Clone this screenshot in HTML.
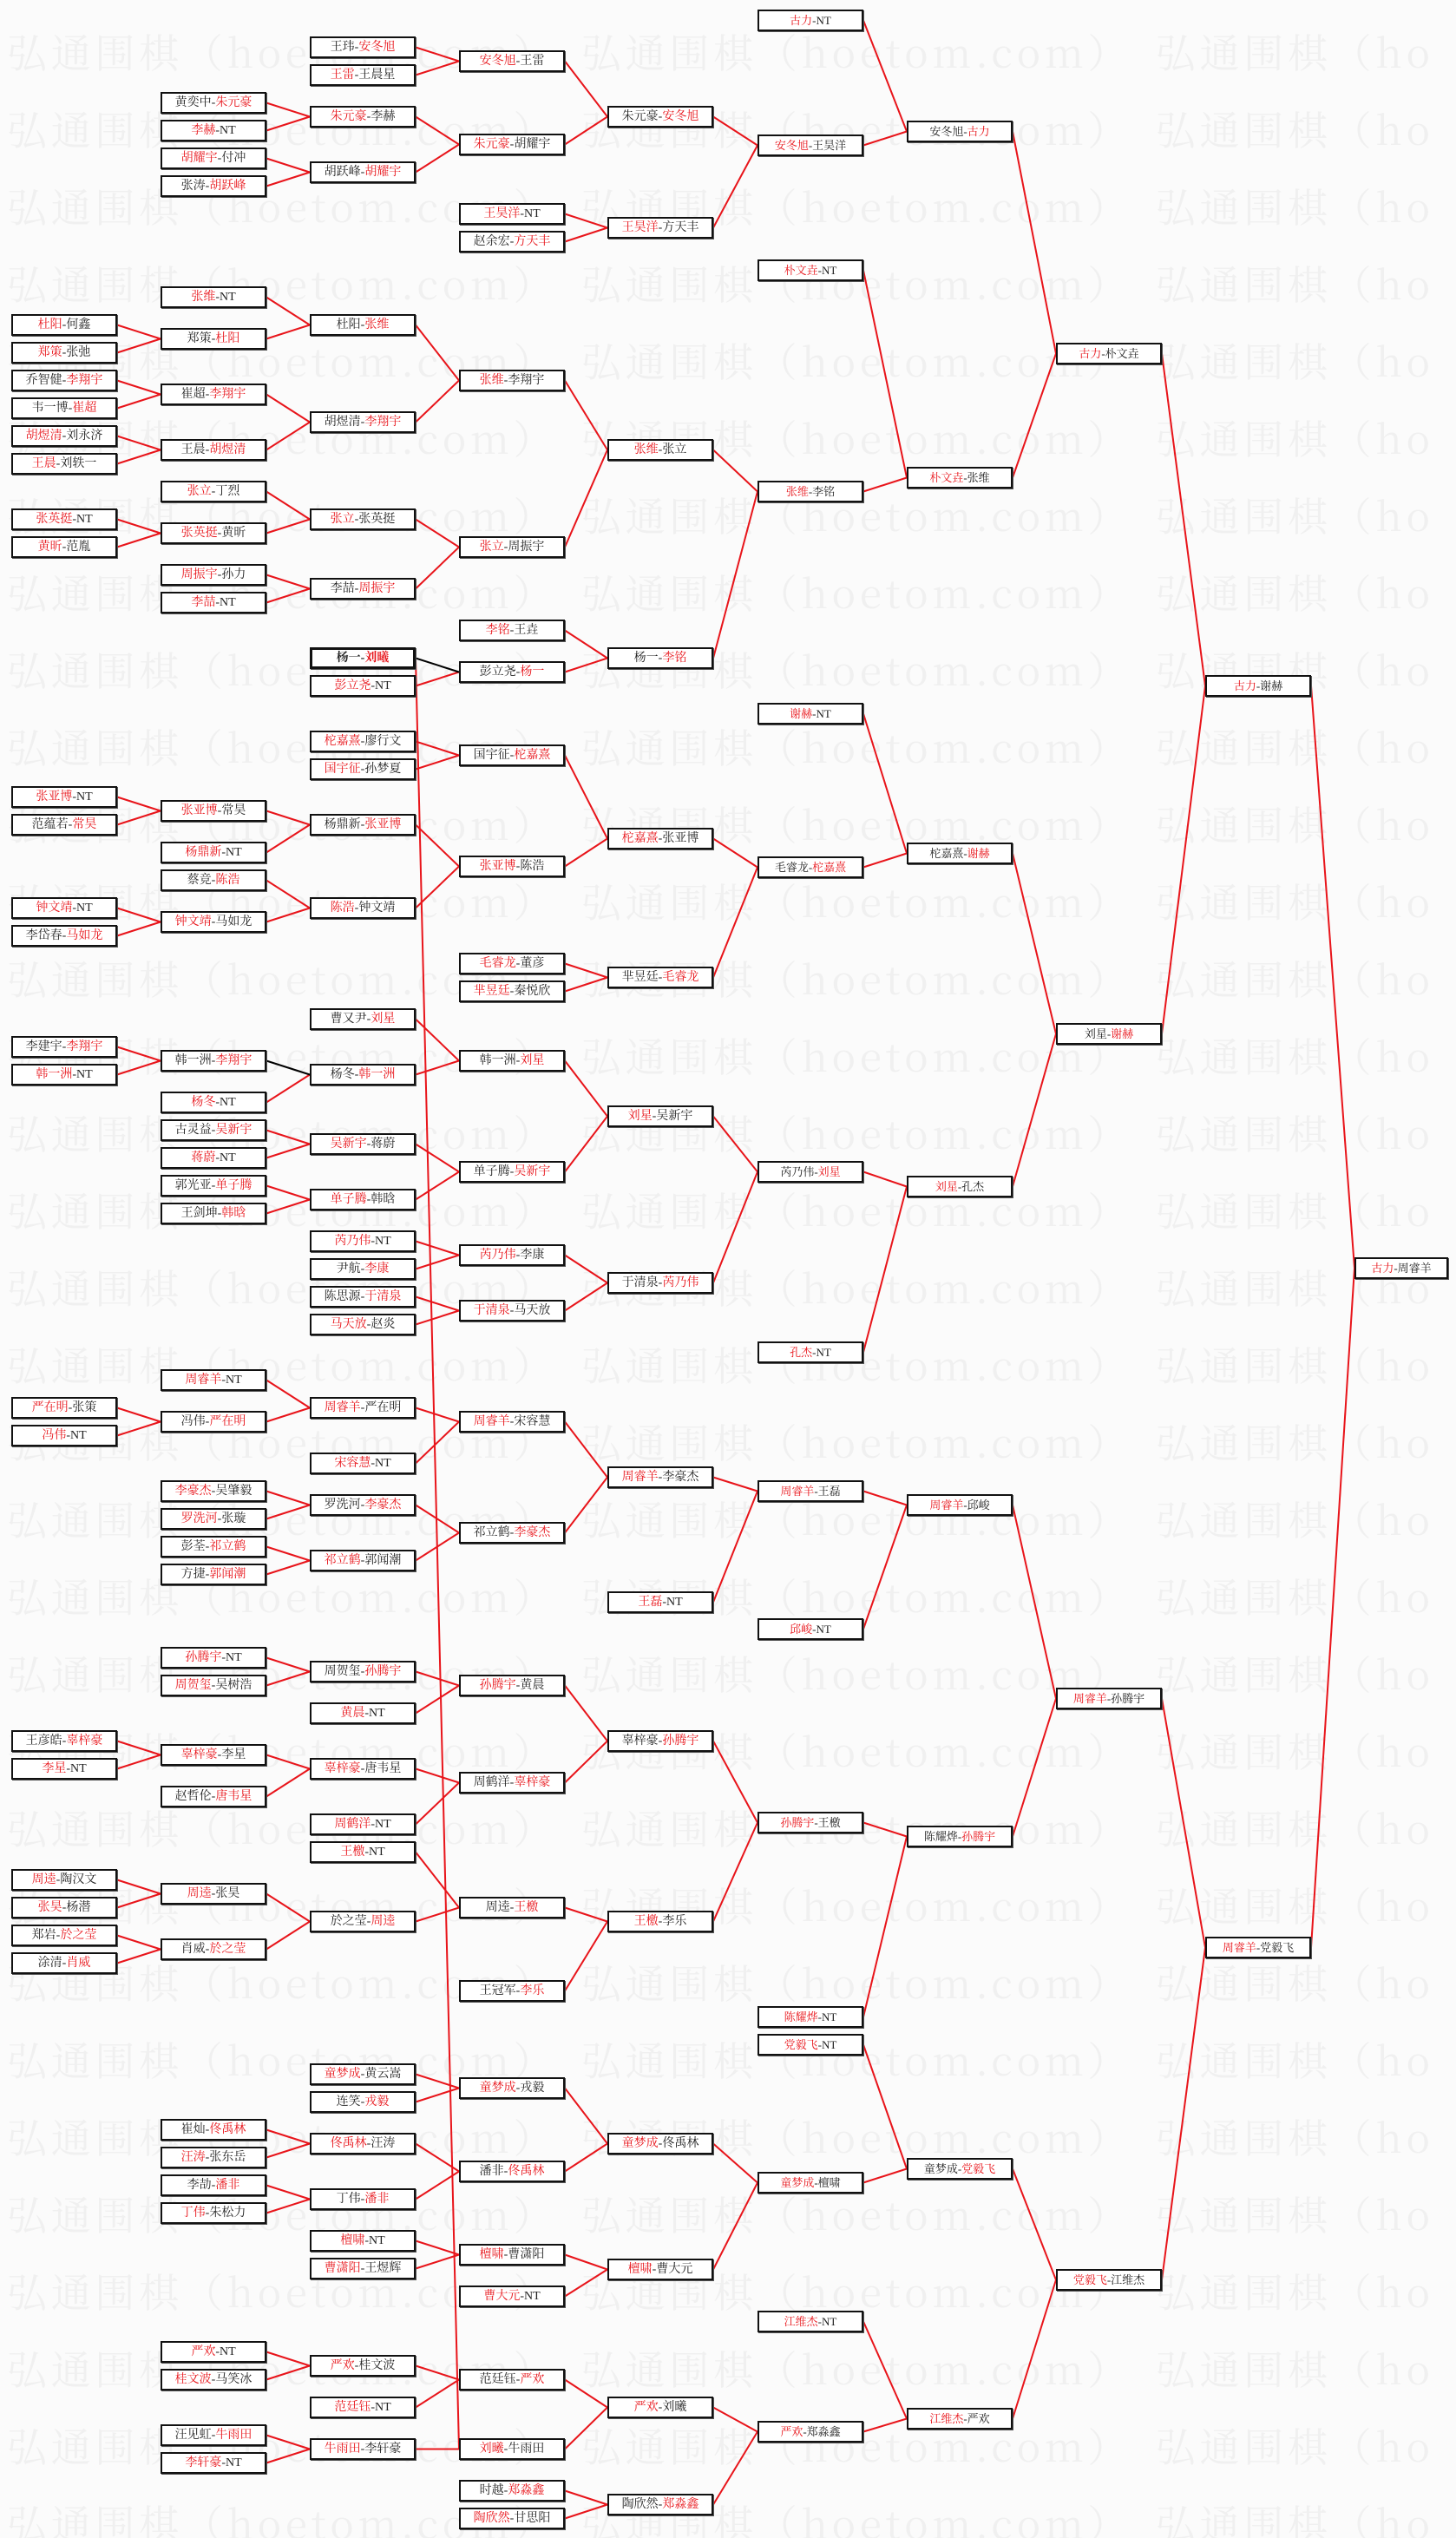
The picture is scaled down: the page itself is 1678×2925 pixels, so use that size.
<!DOCTYPE html>
<html><head><meta charset="utf-8">
<style>
html,body{margin:0;padding:0}
body{width:1678px;height:2925px;position:relative;background:#fbfbfb;overflow:hidden;font-family:"Liberation Serif","Noto Serif CJK SC",serif;color:#222}
#wm{position:absolute;left:0;top:0}
#ln{position:absolute;left:0;top:0}
.b{position:absolute;width:118px;height:21px;border:2px solid #111;background:#fff;font-size:14px;line-height:21px;text-align:center;white-space:nowrap;overflow:hidden;box-shadow:1px 1px 0 #555}
.s{font-size:13px}
.b i{font-style:normal;color:#e8141a}
.A{left:13px}.B{left:185px}.C{left:357px}.D{left:529px}.E{left:700px}
.F{left:873px}.G{left:1045px}.H{left:1217px}.I{left:1389px}.J{left:1561px;width:104px}
.k{border-width:3px;height:19px;line-height:19px;width:116px;font-weight:bold}
</style></head><body>
<svg id="wm" width="1678" height="2925" font-family="Noto Serif CJK SC,serif" font-size="46" fill="#f0f0f0">
<text x="8" y="78" textLength="1640" lengthAdjust="spacing">弘通围棋（hoetom.com）　弘通围棋（hoetom.com）　弘通围棋（ho</text>
<text x="8" y="167" textLength="1640" lengthAdjust="spacing">弘通围棋（hoetom.com）　弘通围棋（hoetom.com）　弘通围棋（ho</text>
<text x="8" y="256" textLength="1640" lengthAdjust="spacing">弘通围棋（hoetom.com）　弘通围棋（hoetom.com）　弘通围棋（ho</text>
<text x="8" y="345" textLength="1640" lengthAdjust="spacing">弘通围棋（hoetom.com）　弘通围棋（hoetom.com）　弘通围棋（ho</text>
<text x="8" y="434" textLength="1640" lengthAdjust="spacing">弘通围棋（hoetom.com）　弘通围棋（hoetom.com）　弘通围棋（ho</text>
<text x="8" y="523" textLength="1640" lengthAdjust="spacing">弘通围棋（hoetom.com）　弘通围棋（hoetom.com）　弘通围棋（ho</text>
<text x="8" y="612" textLength="1640" lengthAdjust="spacing">弘通围棋（hoetom.com）　弘通围棋（hoetom.com）　弘通围棋（ho</text>
<text x="8" y="701" textLength="1640" lengthAdjust="spacing">弘通围棋（hoetom.com）　弘通围棋（hoetom.com）　弘通围棋（ho</text>
<text x="8" y="790" textLength="1640" lengthAdjust="spacing">弘通围棋（hoetom.com）　弘通围棋（hoetom.com）　弘通围棋（ho</text>
<text x="8" y="879" textLength="1640" lengthAdjust="spacing">弘通围棋（hoetom.com）　弘通围棋（hoetom.com）　弘通围棋（ho</text>
<text x="8" y="968" textLength="1640" lengthAdjust="spacing">弘通围棋（hoetom.com）　弘通围棋（hoetom.com）　弘通围棋（ho</text>
<text x="8" y="1057" textLength="1640" lengthAdjust="spacing">弘通围棋（hoetom.com）　弘通围棋（hoetom.com）　弘通围棋（ho</text>
<text x="8" y="1146" textLength="1640" lengthAdjust="spacing">弘通围棋（hoetom.com）　弘通围棋（hoetom.com）　弘通围棋（ho</text>
<text x="8" y="1235" textLength="1640" lengthAdjust="spacing">弘通围棋（hoetom.com）　弘通围棋（hoetom.com）　弘通围棋（ho</text>
<text x="8" y="1324" textLength="1640" lengthAdjust="spacing">弘通围棋（hoetom.com）　弘通围棋（hoetom.com）　弘通围棋（ho</text>
<text x="8" y="1413" textLength="1640" lengthAdjust="spacing">弘通围棋（hoetom.com）　弘通围棋（hoetom.com）　弘通围棋（ho</text>
<text x="8" y="1502" textLength="1640" lengthAdjust="spacing">弘通围棋（hoetom.com）　弘通围棋（hoetom.com）　弘通围棋（ho</text>
<text x="8" y="1591" textLength="1640" lengthAdjust="spacing">弘通围棋（hoetom.com）　弘通围棋（hoetom.com）　弘通围棋（ho</text>
<text x="8" y="1680" textLength="1640" lengthAdjust="spacing">弘通围棋（hoetom.com）　弘通围棋（hoetom.com）　弘通围棋（ho</text>
<text x="8" y="1769" textLength="1640" lengthAdjust="spacing">弘通围棋（hoetom.com）　弘通围棋（hoetom.com）　弘通围棋（ho</text>
<text x="8" y="1858" textLength="1640" lengthAdjust="spacing">弘通围棋（hoetom.com）　弘通围棋（hoetom.com）　弘通围棋（ho</text>
<text x="8" y="1947" textLength="1640" lengthAdjust="spacing">弘通围棋（hoetom.com）　弘通围棋（hoetom.com）　弘通围棋（ho</text>
<text x="8" y="2036" textLength="1640" lengthAdjust="spacing">弘通围棋（hoetom.com）　弘通围棋（hoetom.com）　弘通围棋（ho</text>
<text x="8" y="2125" textLength="1640" lengthAdjust="spacing">弘通围棋（hoetom.com）　弘通围棋（hoetom.com）　弘通围棋（ho</text>
<text x="8" y="2214" textLength="1640" lengthAdjust="spacing">弘通围棋（hoetom.com）　弘通围棋（hoetom.com）　弘通围棋（ho</text>
<text x="8" y="2303" textLength="1640" lengthAdjust="spacing">弘通围棋（hoetom.com）　弘通围棋（hoetom.com）　弘通围棋（ho</text>
<text x="8" y="2392" textLength="1640" lengthAdjust="spacing">弘通围棋（hoetom.com）　弘通围棋（hoetom.com）　弘通围棋（ho</text>
<text x="8" y="2481" textLength="1640" lengthAdjust="spacing">弘通围棋（hoetom.com）　弘通围棋（hoetom.com）　弘通围棋（ho</text>
<text x="8" y="2570" textLength="1640" lengthAdjust="spacing">弘通围棋（hoetom.com）　弘通围棋（hoetom.com）　弘通围棋（ho</text>
<text x="8" y="2659" textLength="1640" lengthAdjust="spacing">弘通围棋（hoetom.com）　弘通围棋（hoetom.com）　弘通围棋（ho</text>
<text x="8" y="2748" textLength="1640" lengthAdjust="spacing">弘通围棋（hoetom.com）　弘通围棋（hoetom.com）　弘通围棋（ho</text>
<text x="8" y="2837" textLength="1640" lengthAdjust="spacing">弘通围棋（hoetom.com）　弘通围棋（hoetom.com）　弘通围棋（ho</text>
<text x="8" y="2926" textLength="1640" lengthAdjust="spacing">弘通围棋（hoetom.com）　弘通围棋（hoetom.com）　弘通围棋（ho</text>
</svg>
<svg id="ln" width="1678" height="2925"></svg>

<div id="C1" class="b C" style="top:42px">王玮-<i>安冬旭</i></div>
<div id="C2" class="b C" style="top:74px"><i>王雷</i>-王晨星</div>
<div id="D1" class="b D" style="top:58px"><i>安冬旭</i>-王雷</div>
<div id="B1" class="b B" style="top:106px">黄奕中-<i>朱元豪</i></div>
<div id="B2" class="b B" style="top:138px"><i>李赫</i>-NT</div>
<div id="B3" class="b B" style="top:170px"><i>胡耀宇</i>-付冲</div>
<div id="B4" class="b B" style="top:202px">张涛-<i>胡跃峰</i></div>
<div id="C3" class="b C" style="top:122px"><i>朱元豪</i>-李赫</div>
<div id="C4" class="b C" style="top:186px">胡跃峰-<i>胡耀宇</i></div>
<div id="D2" class="b D" style="top:154px"><i>朱元豪</i>-胡耀宇</div>
<div id="E1" class="b E" style="top:122px">朱元豪-<i>安冬旭</i></div>
<div id="D3" class="b D" style="top:234px"><i>王昊洋</i>-NT</div>
<div id="D4" class="b D" style="top:266px">赵余宏-<i>方天丰</i></div>
<div id="E2" class="b E" style="top:250px"><i>王昊洋</i>-方天丰</div>
<div id="F1" class="b s F" style="top:11px"><i>古力</i>-NT</div>
<div id="F2" class="b s F" style="top:155px"><i>安冬旭</i>-王昊洋</div>
<div id="G1" class="b s G" style="top:139px">安冬旭-<i>古力</i></div>
<div id="B5" class="b B" style="top:330px"><i>张维</i>-NT</div>
<div id="A1" class="b A" style="top:362px"><i>杜阳</i>-何鑫</div>
<div id="A2" class="b A" style="top:394px"><i>郑策</i>-张弛</div>
<div id="B6" class="b B" style="top:378px">郑策-<i>杜阳</i></div>
<div id="C5" class="b C" style="top:362px">杜阳-<i>张维</i></div>
<div id="A3" class="b A" style="top:426px">乔智健-<i>李翔宇</i></div>
<div id="A4" class="b A" style="top:458px">韦一博-<i>崔超</i></div>
<div id="A5" class="b A" style="top:490px"><i>胡煜清</i>-刘永济</div>
<div id="A6" class="b A" style="top:522px"><i>王晨</i>-刘轶一</div>
<div id="B7" class="b B" style="top:442px">崔超-<i>李翔宇</i></div>
<div id="B8" class="b B" style="top:506px">王晨-<i>胡煜清</i></div>
<div id="C6" class="b C" style="top:474px">胡煜清-<i>李翔宇</i></div>
<div id="D5" class="b D" style="top:426px"><i>张维</i>-李翔宇</div>
<div id="E3" class="b E" style="top:506px"><i>张维</i>-张立</div>
<div id="B9" class="b B" style="top:554px"><i>张立</i>-丁烈</div>
<div id="A7" class="b A" style="top:586px"><i>张英挺</i>-NT</div>
<div id="A8" class="b A" style="top:618px"><i>黄昕</i>-范胤</div>
<div id="B10" class="b B" style="top:602px"><i>张英挺</i>-黄昕</div>
<div id="B11" class="b B" style="top:650px"><i>周振宇</i>-孙力</div>
<div id="B12" class="b B" style="top:682px"><i>李喆</i>-NT</div>
<div id="C7" class="b C" style="top:586px"><i>张立</i>-张英挺</div>
<div id="C8" class="b C" style="top:666px">李喆-<i>周振宇</i></div>
<div id="D6" class="b D" style="top:618px"><i>张立</i>-周振宇</div>
<div id="D7" class="b D" style="top:714px"><i>李铭</i>-王垚</div>
<div id="E4" class="b E" style="top:746px">杨一-<i>李铭</i></div>
<div id="C9" class="b C k" style="top:746px">杨一-<i>刘曦</i></div>
<div id="C10" class="b C" style="top:778px"><i>彭立尧</i>-NT</div>
<div id="D8" class="b D" style="top:762px">彭立尧-<i>杨一</i></div>
<div id="F3" class="b s F" style="top:299px"><i>朴文垚</i>-NT</div>
<div id="F4" class="b s F" style="top:554px"><i>张维</i>-李铭</div>
<div id="G2" class="b s G" style="top:538px"><i>朴文垚</i>-张维</div>
<div id="H1" class="b s H" style="top:395px"><i>古力</i>-朴文垚</div>
<div id="C11" class="b C" style="top:842px"><i>柁嘉熹</i>-廖行文</div>
<div id="C12" class="b C" style="top:874px"><i>国宇征</i>-孙梦夏</div>
<div id="D9" class="b D" style="top:858px">国宇征-<i>柁嘉熹</i></div>
<div id="A9" class="b A" style="top:906px"><i>张亚博</i>-NT</div>
<div id="A10" class="b A" style="top:938px">范蕴若-<i>常昊</i></div>
<div id="B13" class="b B" style="top:922px"><i>张亚博</i>-常昊</div>
<div id="B14" class="b B" style="top:970px"><i>杨鼎新</i>-NT</div>
<div id="C13" class="b C" style="top:938px">杨鼎新-<i>张亚博</i></div>
<div id="E5" class="b E" style="top:954px"><i>柁嘉熹</i>-张亚博</div>
<div id="D10" class="b D" style="top:986px"><i>张亚博</i>-陈浩</div>
<div id="B15" class="b B" style="top:1002px">蔡竞-<i>陈浩</i></div>
<div id="A11" class="b A" style="top:1034px"><i>钟文靖</i>-NT</div>
<div id="A12" class="b A" style="top:1066px">李岱春-<i>马如龙</i></div>
<div id="B16" class="b B" style="top:1050px"><i>钟文靖</i>-马如龙</div>
<div id="C14" class="b C" style="top:1034px"><i>陈浩</i>-钟文靖</div>
<div id="D11" class="b D" style="top:1098px"><i>毛睿龙</i>-董彦</div>
<div id="D12" class="b D" style="top:1130px"><i>芈昱廷</i>-秦悦欣</div>
<div id="E6" class="b E" style="top:1114px">芈昱廷-<i>毛睿龙</i></div>
<div id="F5" class="b s F" style="top:810px"><i>谢赫</i>-NT</div>
<div id="F6" class="b s F" style="top:987px">毛睿龙-<i>柁嘉熹</i></div>
<div id="G3" class="b s G" style="top:971px">柁嘉熹-<i>谢赫</i></div>
<div id="C15" class="b C" style="top:1162px">曹又尹-<i>刘星</i></div>
<div id="A13" class="b A" style="top:1194px">李建宇-<i>李翔宇</i></div>
<div id="A14" class="b A" style="top:1226px"><i>韩一洲</i>-NT</div>
<div id="B17" class="b B" style="top:1210px">韩一洲-<i>李翔宇</i></div>
<div id="B18" class="b B" style="top:1258px"><i>杨冬</i>-NT</div>
<div id="B19" class="b B" style="top:1290px">古灵益-<i>吴新宇</i></div>
<div id="B20" class="b B" style="top:1322px"><i>蒋蔚</i>-NT</div>
<div id="B21" class="b B" style="top:1354px">郭光亚-<i>单子腾</i></div>
<div id="B22" class="b B" style="top:1386px">王剑坤-<i>韩晗</i></div>
<div id="C16" class="b C" style="top:1226px">杨冬-<i>韩一洲</i></div>
<div id="C17" class="b C" style="top:1306px"><i>吴新宇</i>-蒋蔚</div>
<div id="C18" class="b C" style="top:1370px"><i>单子腾</i>-韩晗</div>
<div id="D13" class="b D" style="top:1210px">韩一洲-<i>刘星</i></div>
<div id="D14" class="b D" style="top:1338px">单子腾-<i>吴新宇</i></div>
<div id="E7" class="b E" style="top:1274px"><i>刘星</i>-吴新宇</div>
<div id="C19" class="b C" style="top:1418px"><i>芮乃伟</i>-NT</div>
<div id="C20" class="b C" style="top:1450px">尹航-<i>李康</i></div>
<div id="C21" class="b C" style="top:1482px">陈思源-<i>于清泉</i></div>
<div id="C22" class="b C" style="top:1514px"><i>马天放</i>-赵炎</div>
<div id="D15" class="b D" style="top:1434px"><i>芮乃伟</i>-李康</div>
<div id="D16" class="b D" style="top:1498px"><i>于清泉</i>-马天放</div>
<div id="E8" class="b E" style="top:1466px">于清泉-<i>芮乃伟</i></div>
<div id="F7" class="b s F" style="top:1338px">芮乃伟-<i>刘星</i></div>
<div id="F8" class="b s F" style="top:1546px"><i>孔杰</i>-NT</div>
<div id="G4" class="b s G" style="top:1355px"><i>刘星</i>-孔杰</div>
<div id="H2" class="b s H" style="top:1179px">刘星-<i>谢赫</i></div>
<div id="I1" class="b s I" style="top:778px"><i>古力</i>-谢赫</div>
<div id="J1" class="b s J" style="top:1449px"><i>古力</i>-周睿羊</div>
<div id="B23" class="b B" style="top:1578px"><i>周睿羊</i>-NT</div>
<div id="A15" class="b A" style="top:1610px"><i>严在明</i>-张策</div>
<div id="A16" class="b A" style="top:1642px"><i>冯伟</i>-NT</div>
<div id="B24" class="b B" style="top:1626px">冯伟-<i>严在明</i></div>
<div id="C23" class="b C" style="top:1610px"><i>周睿羊</i>-严在明</div>
<div id="C24" class="b C" style="top:1674px"><i>宋容慧</i>-NT</div>
<div id="D17" class="b D" style="top:1626px"><i>周睿羊</i>-宋容慧</div>
<div id="E9" class="b E" style="top:1690px"><i>周睿羊</i>-李豪杰</div>
<div id="B25" class="b B" style="top:1706px"><i>李豪杰</i>-吴肇毅</div>
<div id="B26" class="b B" style="top:1738px"><i>罗洗河</i>-张璇</div>
<div id="B27" class="b B" style="top:1770px">彭荃-<i>祁立鹤</i></div>
<div id="B28" class="b B" style="top:1802px">方捷-<i>郭闻潮</i></div>
<div id="C25" class="b C" style="top:1722px">罗洗河-<i>李豪杰</i></div>
<div id="C26" class="b C" style="top:1786px"><i>祁立鹤</i>-郭闻潮</div>
<div id="D18" class="b D" style="top:1754px">祁立鹤-<i>李豪杰</i></div>
<div id="E10" class="b E" style="top:1834px"><i>王磊</i>-NT</div>
<div id="F9" class="b s F" style="top:1706px"><i>周睿羊</i>-王磊</div>
<div id="F10" class="b s F" style="top:1865px"><i>邱峻</i>-NT</div>
<div id="G5" class="b s G" style="top:1722px"><i>周睿羊</i>-邱峻</div>
<div id="B29" class="b B" style="top:1898px"><i>孙腾宇</i>-NT</div>
<div id="B30" class="b B" style="top:1930px"><i>周贺玺</i>-吴树浩</div>
<div id="C27" class="b C" style="top:1914px">周贺玺-<i>孙腾宇</i></div>
<div id="D19" class="b D" style="top:1930px"><i>孙腾宇</i>-黄晨</div>
<div id="C28" class="b C" style="top:1962px"><i>黄晨</i>-NT</div>
<div id="A17" class="b A" style="top:1994px">王彦皓-<i>辜梓豪</i></div>
<div id="A18" class="b A" style="top:2026px"><i>李星</i>-NT</div>
<div id="B31" class="b B" style="top:2010px"><i>辜梓豪</i>-李星</div>
<div id="B32" class="b B" style="top:2058px">赵哲伦-<i>唐韦星</i></div>
<div id="C29" class="b C" style="top:2026px"><i>辜梓豪</i>-唐韦星</div>
<div id="C30" class="b C" style="top:2090px"><i>周鹤洋</i>-NT</div>
<div id="C31" class="b C" style="top:2122px"><i>王檄</i>-NT</div>
<div id="D20" class="b D" style="top:2042px">周鹤洋-<i>辜梓豪</i></div>
<div id="E11" class="b E" style="top:1994px">辜梓豪-<i>孙腾宇</i></div>
<div id="A19" class="b A" style="top:2154px"><i>周逵</i>-陶汉文</div>
<div id="A20" class="b A" style="top:2186px"><i>张昊</i>-杨潜</div>
<div id="A21" class="b A" style="top:2218px">郑岩-<i>於之莹</i></div>
<div id="A22" class="b A" style="top:2250px">涂清-<i>肖威</i></div>
<div id="B33" class="b B" style="top:2170px"><i>周逵</i>-张昊</div>
<div id="B34" class="b B" style="top:2234px">肖威-<i>於之莹</i></div>
<div id="C32" class="b C" style="top:2202px">於之莹-<i>周逵</i></div>
<div id="D21" class="b D" style="top:2186px">周逵-<i>王檄</i></div>
<div id="D22" class="b D" style="top:2282px">王冠军-<i>李乐</i></div>
<div id="E12" class="b E" style="top:2202px"><i>王檄</i>-李乐</div>
<div id="F11" class="b s F" style="top:2088px"><i>孙腾宇</i>-王檄</div>
<div id="F12" class="b s F" style="top:2312px"><i>陈耀烨</i>-NT</div>
<div id="G6" class="b s G" style="top:2104px">陈耀烨-<i>孙腾宇</i></div>
<div id="H3" class="b s H" style="top:1945px"><i>周睿羊</i>-孙腾宇</div>
<div id="C33" class="b C" style="top:2378px"><i>童梦成</i>-黄云嵩</div>
<div id="C34" class="b C" style="top:2410px">连笑-<i>戎毅</i></div>
<div id="D23" class="b D" style="top:2394px"><i>童梦成</i>-戎毅</div>
<div id="B35" class="b B" style="top:2442px">崔灿-<i>佟禹林</i></div>
<div id="B36" class="b B" style="top:2474px"><i>汪涛</i>-张东岳</div>
<div id="B37" class="b B" style="top:2506px">李劼-<i>潘非</i></div>
<div id="B38" class="b B" style="top:2538px"><i>丁伟</i>-朱松力</div>
<div id="C35" class="b C" style="top:2458px"><i>佟禹林</i>-汪涛</div>
<div id="C36" class="b C" style="top:2522px">丁伟-<i>潘非</i></div>
<div id="D24" class="b D" style="top:2490px">潘非-<i>佟禹林</i></div>
<div id="E13" class="b E" style="top:2458px"><i>童梦成</i>-佟禹林</div>
<div id="C37" class="b C" style="top:2570px"><i>檀啸</i>-NT</div>
<div id="C38" class="b C" style="top:2602px"><i>曹潇阳</i>-王煜辉</div>
<div id="D25" class="b D" style="top:2586px"><i>檀啸</i>-曹潇阳</div>
<div id="D26" class="b D" style="top:2634px"><i>曹大元</i>-NT</div>
<div id="E14" class="b E" style="top:2603px"><i>檀啸</i>-曹大元</div>
<div id="F13" class="b s F" style="top:2344px"><i>党毅飞</i>-NT</div>
<div id="F14" class="b s F" style="top:2503px"><i>童梦成</i>-檀啸</div>
<div id="G7" class="b s G" style="top:2487px">童梦成-<i>党毅飞</i></div>
<div id="B39" class="b B" style="top:2698px"><i>严欢</i>-NT</div>
<div id="B40" class="b B" style="top:2730px"><i>桂文波</i>-马笑冰</div>
<div id="B41" class="b B" style="top:2794px">汪见虹-<i>牛雨田</i></div>
<div id="B42" class="b B" style="top:2826px"><i>李轩豪</i>-NT</div>
<div id="C39" class="b C" style="top:2714px"><i>严欢</i>-桂文波</div>
<div id="C40" class="b C" style="top:2762px"><i>范廷钰</i>-NT</div>
<div id="C41" class="b C" style="top:2810px"><i>牛雨田</i>-李轩豪</div>
<div id="D27" class="b D" style="top:2730px">范廷钰-<i>严欢</i></div>
<div id="D28" class="b D" style="top:2810px"><i>刘曦</i>-牛雨田</div>
<div id="D29" class="b D" style="top:2858px">时越-<i>郑淼鑫</i></div>
<div id="D30" class="b D" style="top:2890px"><i>陶欣然</i>-甘思阳</div>
<div id="E15" class="b E" style="top:2762px"><i>严欢</i>-刘曦</div>
<div id="E16" class="b E" style="top:2874px">陶欣然-<i>郑淼鑫</i></div>
<div id="F15" class="b s F" style="top:2663px"><i>江维杰</i>-NT</div>
<div id="F16" class="b s F" style="top:2790px"><i>严欢</i>-郑淼鑫</div>
<div id="G8" class="b s G" style="top:2775px"><i>江维杰</i>-严欢</div>
<div id="H4" class="b s H" style="top:2615px"><i>党毅飞</i>-江维杰</div>
<div id="I2" class="b s I" style="top:2232px"><i>周睿羊</i>-党毅飞</div>

<script>
var L="D1:C1,C2;C3:B1,B2;C4:B3,B4;D2:C3,C4;E1:D1,D2;E2:D3,D4;F2:E1,E2;G1:F1,F2;B6:A1,A2;C5:B5,B6;B7:A3,A4;B8:A5,A6;C6:B7,B8;D5:C5,C6;B10:A7,A8;C7:B9,B10;C8:B11,B12;D6:C7,C8;E3:D5,D6;D8:C10;E4:D7,D8;F4:E3,E4;G2:F3,F4;H1:G1,G2;D9:C11,C12;B13:A9,A10;C13:B13,B14;B16:A11,A12;C14:B15,B16;D10:C13,C14;E5:D9,D10;E6:D11,D12;F6:E5,E6;G3:F5,F6;B17:A13,A14;C16:B18;D13:C15,C16;C17:B19,B20;C18:B21,B22;D14:C17,C18;E7:D13,D14;D15:C19,C20;D16:C21,C22;E8:D15,D16;F7:E7,E8;G4:F7,F8;H2:G3,G4;I1:H1,H2;J1:I1,I2;B24:A15,A16;C23:B23,B24;D17:C23,C24;C25:B25,B26;C26:B27,B28;D18:C25,C26;E9:D17,D18;F9:E9,E10;G5:F9,F10;C27:B29,B30;D19:C27,C28;B31:A17,A18;C29:B31,B32;D20:C29,C30;E11:D19,D20;B33:A19,A20;B34:A21,A22;C32:B33,B34;D21:C31,C32;E12:D21,D22;F11:E11,E12;G6:F11,F12;H3:G5,G6;D23:C33,C34;C35:B35,B36;C36:B37,B38;D24:C35,C36;E13:D23,D24;D25:C37,C38;E14:D25,D26;F14:E13,E14;G7:F13,F14;C39:B39,B40;D27:C39,C40;C41:B41,B42;D28:C41,C9;E15:D27,D28;E16:D29,D30;F16:E15,E16;G8:F15,F16;H4:G7,G8;I2:H3,H4";
var svg=document.getElementById("ln"),ns="http://www.w3.org/2000/svg";
function bx(id){var e=document.getElementById(id);return {l:e.offsetLeft,t:e.offsetTop,w:e.offsetWidth,h:e.offsetHeight};}
function line(c,p,col){var a=bx(c),b=bx(p);var l=document.createElementNS(ns,"line");
l.setAttribute("x1",a.l+a.w);l.setAttribute("y1",a.t+a.h/2);l.setAttribute("x2",b.l);l.setAttribute("y2",b.t+b.h/2);
l.setAttribute("stroke",col);l.setAttribute("stroke-width","2");svg.appendChild(l);}
L.split(";").forEach(function(g){var s=g.split(":"),p=s[0];s[1].split(",").forEach(function(c){line(c,p,"#e8141a");});});
line("C9","D8","#000");line("B17","C16","#000");
</script>
</body></html>
